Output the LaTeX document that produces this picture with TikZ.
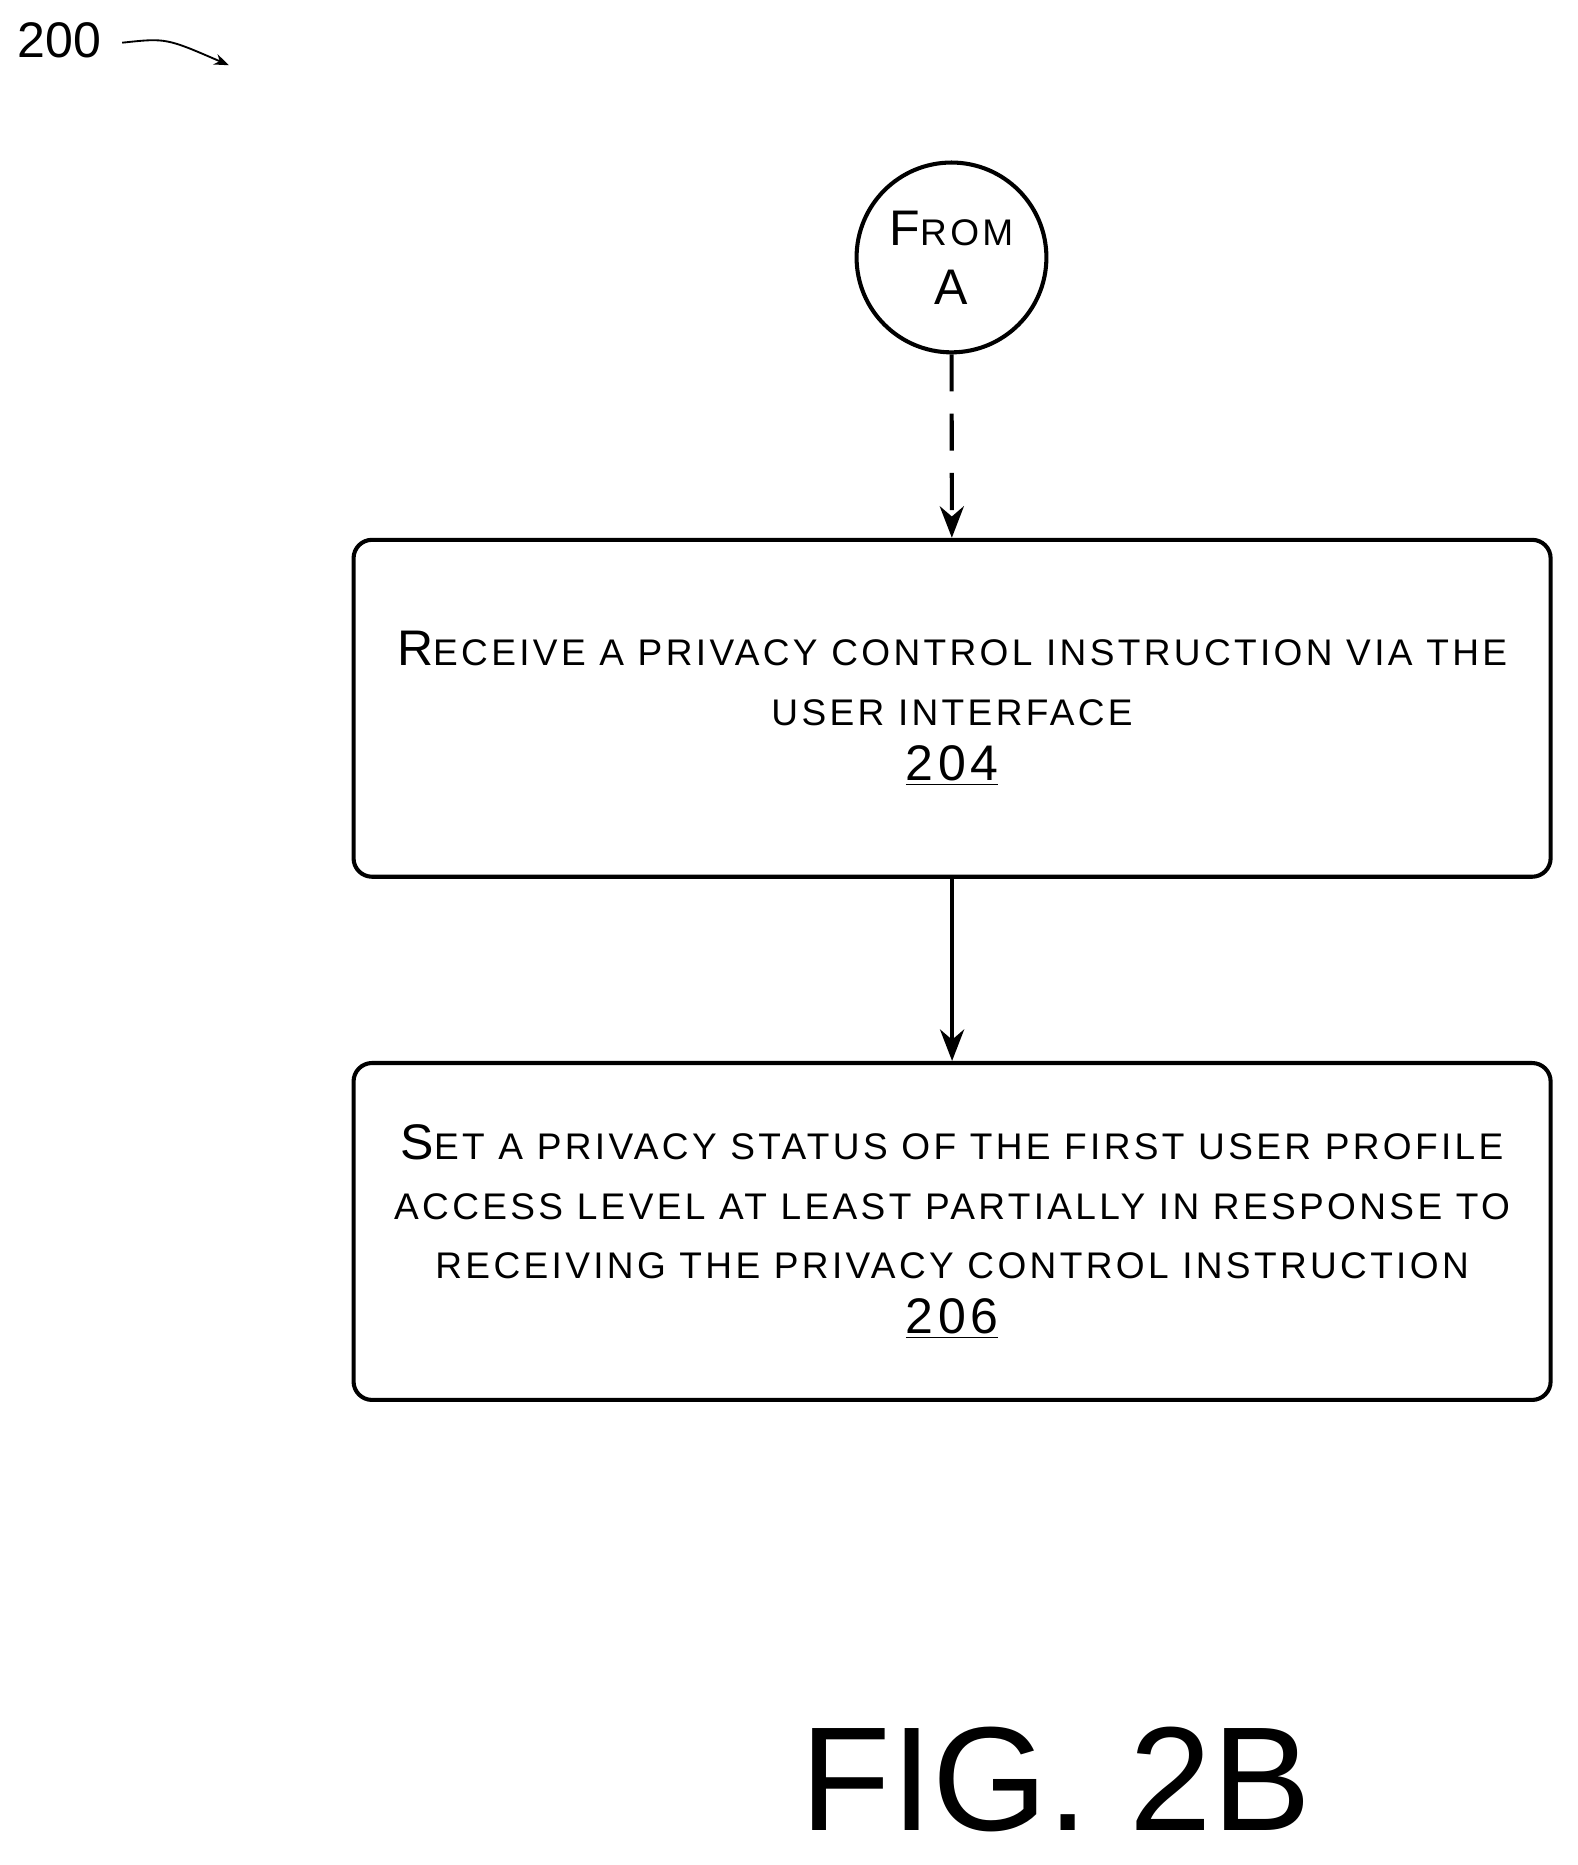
\documentclass[tikz,border=0pt]{standalone}
\usepackage{fontspec}
\setmainfont{Liberation Sans}
\newfontfamily\spacedfont[LetterSpace=9]{Liberation Sans}
\usetikzlibrary{arrows.meta}
\newcommand{\capfirst}[1]{{\fontsize{27}{30}\selectfont #1}}
\begin{document}
\begin{tikzpicture}[x=0.0225cm,y=-0.0225cm,>={Stealth[length=17pt,width=13pt]},
        line width=2.2pt,
        step box/.style={draw,rounded corners=10pt,minimum width=1009*0.0225cm,minimum height=284*0.0225cm,align=center,
                          font=\spacedfont\fontsize{20}{40}\selectfont},
        conn node/.style={circle,draw,minimum size=160*0.0225cm,inner sep=0pt,align=center,font=\spacedfont\fontsize{20}{40}\selectfont}]

    \useasboundingbox (0,0) rectangle (1330,1572);

    \node[font=\fontsize{27}{30}\selectfont] (label) at (50,34) {200};
    \coordinate (labeltip) at (193,55);
    \draw[->,line width=1pt,>={Stealth[length=8pt,width=6pt]}] (103,36) .. controls (140,32) .. (labeltip);

    \node[conn node] (froma) at (802,217) {\capfirst{F}ROM\\[-8pt]\capfirst{A}};
    \node[step box] (receive) at (802.5,597) {\capfirst{R}ECEIVE A PRIVACY CONTROL INSTRUCTION VIA THE\\[-8pt]
        USER INTERFACE\\[-10pt] \capfirst{\underline{204}}};
    \node[step box] (setstatus) at (802.5,1038) {\capfirst{S}ET A PRIVACY STATUS OF THE FIRST USER PROFILE\\[-8pt]
        ACCESS LEVEL AT LEAST PARTIALLY IN RESPONSE TO\\[-8pt]
        RECEIVING THE PRIVACY CONTROL INSTRUCTION\\[-10pt] \capfirst{\underline{206}}};

    \draw[->,dash pattern=on 20pt off 12pt] (froma) -- (receive);
    \draw[->] (receive) -- (setstatus);

    \node[font=\fontsize{80}{84}\selectfont] (figname) at (890,1500) {FIG. 2B};
\end{tikzpicture}
\end{document}
